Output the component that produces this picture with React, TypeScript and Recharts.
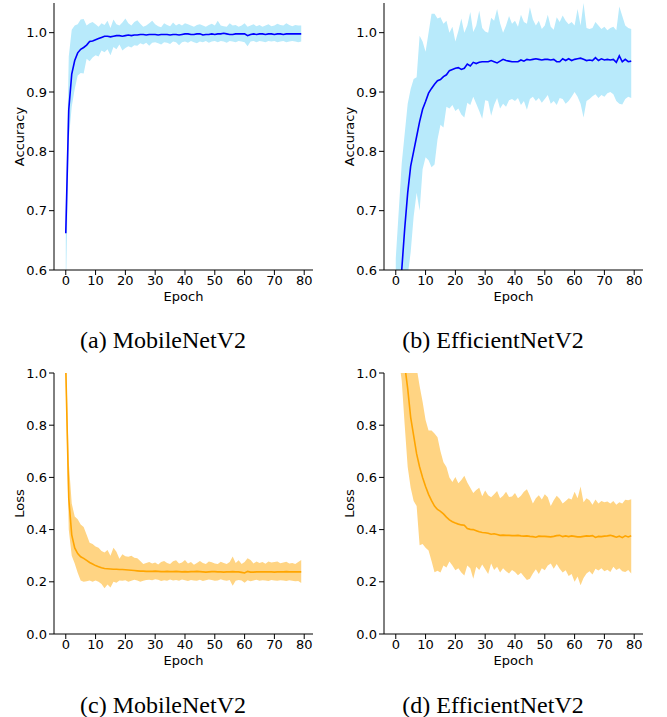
import { Area, ComposedChart, Line, XAxis, YAxis } from 'recharts';

const EPOCHS = Array.from({ length: 80 }, (_, i) => i);
const X_TICKS = [0, 10, 20, 30, 40, 50, 60, 70, 80];
const ACC_TICKS = [0.6, 0.7, 0.8, 0.9, 1.0];
const LOSS_TICKS = [0.0, 0.2, 0.4, 0.6, 0.8, 1.0];

// (a) MobileNetV2 accuracy: mean and shaded band
const accA = [
  0.662, 0.87, 0.93, 0.953, 0.966, 0.972, 0.975, 0.979, 0.985, 0.986,
  0.988, 0.99, 0.992, 0.994, 0.994, 0.993, 0.994, 0.995, 0.995, 0.994,
  0.995, 0.996, 0.995, 0.996, 0.996, 0.997, 0.997, 0.996, 0.997, 0.997,
  0.997, 0.996, 0.997, 0.997, 0.997, 0.996, 0.997, 0.997, 0.996, 0.997,
  0.998, 0.998, 0.997, 0.997, 0.998, 0.998, 0.996, 0.997, 0.997, 0.998,
  0.997, 0.998, 0.998, 0.999, 0.998, 0.997, 0.997, 0.998, 0.998, 0.998,
  0.998, 0.995, 0.997, 0.998, 0.997, 0.998, 0.998, 0.997, 0.998, 0.998,
  0.997, 0.998, 0.998, 0.997, 0.998, 0.998, 0.998, 0.998, 0.998, 0.998,
];
const accAHi = [
  0.7, 0.96, 1.005, 1.012, 1.014, 1.022, 1.023, 1.012, 1.016, 1.018,
  1.014, 1.01, 1.016, 1.013, 1.02, 1.008, 1.022, 1.014, 1.012, 1.017,
  1.024, 1.016, 1.012, 1.018, 1.021, 1.015, 1.01, 1.012, 1.016, 1.02,
  1.014, 1.011, 1.009, 1.016, 1.013, 1.011, 1.017, 1.012, 1.015, 1.012,
  1.016, 1.014, 1.012, 1.01, 1.013, 1.014, 1.012, 1.01, 1.013, 1.015,
  1.012, 1.02, 1.012, 1.011, 1.01, 1.016, 1.012, 1.013, 1.01, 1.012,
  1.016, 1.01, 1.012, 1.014, 1.011, 1.013, 1.01, 1.012, 1.014, 1.011,
  1.012, 1.015, 1.013, 1.012, 1.016, 1.013, 1.011, 1.013, 1.012, 1.012,
];
const accALo = [
  0.55, 0.82, 0.875, 0.905, 0.928, 0.932, 0.931, 0.956, 0.952, 0.958,
  0.962, 0.96, 0.97, 0.967, 0.972, 0.962, 0.976, 0.972, 0.98, 0.97,
  0.974, 0.977, 0.975, 0.979, 0.978, 0.982, 0.98, 0.983, 0.978, 0.983,
  0.984, 0.982, 0.98, 0.984, 0.983, 0.981, 0.985, 0.984, 0.979, 0.984,
  0.985, 0.983, 0.986, 0.984, 0.982, 0.985, 0.984, 0.986, 0.983, 0.985,
  0.986, 0.984, 0.986, 0.985, 0.983, 0.986, 0.985, 0.984, 0.986, 0.985,
  0.984, 0.977, 0.985, 0.986, 0.984, 0.986, 0.985, 0.984, 0.986, 0.985,
  0.986, 0.984, 0.985, 0.986, 0.984, 0.985, 0.986, 0.985, 0.984, 0.985,
];

// (b) EfficientNetV2 accuracy
const accB = [
  0.48, 0.54, 0.6, 0.67, 0.73, 0.775, 0.8, 0.825, 0.85, 0.871,
  0.884, 0.898, 0.906, 0.913, 0.919, 0.921, 0.926, 0.929, 0.936, 0.938,
  0.94, 0.941, 0.938, 0.94, 0.947, 0.944, 0.95, 0.948, 0.95, 0.951,
  0.951, 0.951, 0.953, 0.951, 0.949, 0.952, 0.955, 0.953, 0.952, 0.951,
  0.951, 0.951, 0.954, 0.952, 0.955, 0.954, 0.955, 0.956, 0.955, 0.954,
  0.955, 0.955, 0.954, 0.955, 0.951, 0.951, 0.956, 0.953, 0.956, 0.953,
  0.955, 0.956, 0.957, 0.955, 0.953, 0.954, 0.953, 0.958, 0.953, 0.956,
  0.954, 0.955, 0.954, 0.955, 0.95, 0.961, 0.951, 0.955, 0.951, 0.952,
];
const accBHi = [
  0.62, 0.7, 0.78, 0.83, 0.88, 0.905, 0.922, 0.925, 0.995, 0.985,
  0.968, 1.0, 1.032, 1.032, 1.024, 1.026, 1.015, 1.02, 1.0, 1.01,
  0.985, 1.003, 1.024, 1.0, 1.012, 1.035, 1.001, 1.012, 1.037, 1.008,
  1.002, 1.0, 1.025, 1.02, 1.04, 1.016, 1.0, 1.012, 1.028, 1.015,
  1.02, 1.01, 1.03, 1.018, 1.015, 1.043, 1.022, 1.012, 1.02, 1.006,
  1.012, 1.03, 1.01, 1.005, 1.026, 1.018, 1.029, 1.02, 1.014, 1.018,
  1.012, 1.04, 1.012, 1.05, 1.008, 1.006, 1.008, 1.018, 1.012, 1.006,
  1.01, 1.004, 1.008, 1.01, 1.004, 1.044, 1.028, 1.012, 1.008, 1.006,
];
const accBLo = [
  0.35, 0.4, 0.45, 0.52, 0.59, 0.63, 0.69, 0.73, 0.7, 0.77,
  0.79, 0.785, 0.773, 0.778, 0.82, 0.845, 0.84, 0.875, 0.872, 0.878,
  0.868, 0.872, 0.862, 0.857, 0.882, 0.878, 0.892, 0.88, 0.868, 0.855,
  0.886, 0.885, 0.86, 0.878, 0.89, 0.872, 0.88, 0.875, 0.886, 0.888,
  0.885, 0.89, 0.878, 0.885, 0.87, 0.888, 0.892, 0.885, 0.89, 0.882,
  0.888, 0.895, 0.88, 0.885, 0.878, 0.89, 0.888, 0.88, 0.885, 0.892,
  0.9, 0.892, 0.88, 0.857, 0.885, 0.888, 0.893, 0.896, 0.89, 0.895,
  0.892, 0.898, 0.9, 0.896, 0.885, 0.88, 0.879, 0.888, 0.892, 0.89,
];

// (c) MobileNetV2 loss
const lossC = [
  1.02, 0.52, 0.38, 0.33, 0.308, 0.296, 0.29, 0.282, 0.274, 0.268,
  0.262, 0.258, 0.254, 0.251, 0.25, 0.249, 0.248, 0.248, 0.247, 0.247,
  0.246, 0.245, 0.244, 0.243, 0.242, 0.241, 0.241, 0.24, 0.24, 0.24,
  0.241, 0.24, 0.239, 0.239, 0.24, 0.239, 0.239, 0.24, 0.239, 0.238,
  0.239, 0.238, 0.239, 0.239, 0.24, 0.239, 0.238, 0.237, 0.238, 0.239,
  0.239, 0.238, 0.238, 0.237, 0.238, 0.238, 0.239, 0.238, 0.238, 0.236,
  0.234, 0.24, 0.237, 0.237, 0.238, 0.238, 0.238, 0.238, 0.238, 0.238,
  0.237, 0.238, 0.238, 0.238, 0.239, 0.238, 0.238, 0.238, 0.238, 0.238,
];
const lossCHi = [
  1.1, 0.66, 0.5, 0.45, 0.44, 0.42, 0.41, 0.38, 0.35, 0.345,
  0.335, 0.33, 0.318, 0.312, 0.322, 0.3, 0.33, 0.315, 0.288, 0.306,
  0.298, 0.296, 0.3, 0.292, 0.29, 0.28, 0.268, 0.272, 0.276, 0.27,
  0.274, 0.266, 0.276, 0.28, 0.272, 0.268, 0.279, 0.283, 0.27, 0.274,
  0.284, 0.27, 0.276, 0.265, 0.272, 0.28, 0.272, 0.268, 0.278, 0.275,
  0.27, 0.268, 0.277, 0.272, 0.268, 0.276, 0.297, 0.272, 0.283, 0.268,
  0.276, 0.29, 0.284, 0.27, 0.278, 0.272, 0.276, 0.269, 0.278, 0.274,
  0.276, 0.278, 0.271, 0.274, 0.277, 0.27, 0.272, 0.268, 0.276, 0.284,
];
const lossCLo = [
  0.95, 0.4, 0.3, 0.27, 0.235, 0.205, 0.2, 0.202, 0.205, 0.2,
  0.205, 0.2, 0.192, 0.175, 0.19, 0.178, 0.2, 0.196, 0.205, 0.204,
  0.206, 0.2, 0.204, 0.208, 0.205, 0.2, 0.204, 0.207, 0.208, 0.206,
  0.21, 0.208, 0.203, 0.206, 0.204, 0.209, 0.205, 0.207, 0.204, 0.209,
  0.206, 0.203, 0.207, 0.205, 0.204, 0.208, 0.203, 0.206, 0.209, 0.207,
  0.204, 0.205, 0.21, 0.206, 0.204, 0.207, 0.185, 0.204, 0.207, 0.205,
  0.196, 0.206, 0.202, 0.205, 0.208, 0.204, 0.206, 0.205, 0.203, 0.207,
  0.205, 0.204, 0.206, 0.205, 0.203, 0.206, 0.204, 0.202, 0.203, 0.195,
];

// (d) EfficientNetV2 loss
const lossD = [
  1.28, 1.18, 1.1, 1.03, 0.94, 0.83, 0.76, 0.69, 0.64, 0.6,
  0.565, 0.535, 0.511, 0.49, 0.477, 0.47, 0.46, 0.448, 0.437, 0.43,
  0.425, 0.421, 0.418, 0.417, 0.404, 0.401, 0.4, 0.396, 0.392, 0.389,
  0.388, 0.386, 0.382, 0.384, 0.381, 0.378, 0.379, 0.378, 0.378, 0.377,
  0.377, 0.378, 0.376, 0.375, 0.376, 0.374, 0.373, 0.371, 0.375, 0.374,
  0.374, 0.373, 0.372, 0.374, 0.377, 0.378, 0.373, 0.376, 0.373, 0.376,
  0.374, 0.372, 0.372, 0.374, 0.376, 0.375, 0.377, 0.37, 0.374, 0.373,
  0.375, 0.376, 0.378, 0.375, 0.371, 0.375, 0.369, 0.376, 0.372, 0.376,
];
const lossDHi = [
  1.5, 1.45, 1.38, 1.3, 1.22, 1.15, 1.08, 1.02, 0.95, 0.89,
  0.82, 0.78, 0.78, 0.768, 0.754, 0.7, 0.658, 0.64, 0.6, 0.582,
  0.602, 0.578, 0.59, 0.606, 0.58, 0.56, 0.54, 0.552, 0.56, 0.528,
  0.55, 0.532, 0.524, 0.535, 0.548, 0.52, 0.53, 0.545, 0.525, 0.527,
  0.54, 0.52, 0.53, 0.545, 0.555, 0.53, 0.5, 0.52, 0.532, 0.515,
  0.535, 0.524, 0.49, 0.512, 0.53, 0.518, 0.5, 0.51, 0.52, 0.515,
  0.545, 0.52, 0.565, 0.505, 0.52, 0.512, 0.495, 0.515, 0.5, 0.51,
  0.505, 0.508, 0.5, 0.51, 0.495, 0.505, 0.5, 0.514, 0.512, 0.516,
];
const lossDLo = [
  1.15, 1.06, 0.97, 0.8, 0.64, 0.56, 0.51, 0.49, 0.34, 0.345,
  0.33, 0.32, 0.28, 0.237, 0.242, 0.236, 0.262, 0.255, 0.278, 0.262,
  0.244, 0.252, 0.236, 0.224, 0.262, 0.252, 0.212, 0.258, 0.245, 0.266,
  0.248, 0.23, 0.27, 0.245, 0.258, 0.236, 0.252, 0.24, 0.232, 0.245,
  0.238, 0.225, 0.235, 0.22, 0.207, 0.212, 0.232, 0.248, 0.23, 0.252,
  0.244, 0.262, 0.27, 0.25, 0.268, 0.25, 0.236, 0.244, 0.222, 0.23,
  0.2, 0.22, 0.187, 0.215, 0.232, 0.24, 0.228, 0.25, 0.243, 0.252,
  0.24, 0.246, 0.238, 0.258, 0.245, 0.252, 0.24, 0.238, 0.245, 0.232,
];

const FONT_SIZE = 13;
const TICK_FONT = { fontSize: FONT_SIZE, fill: '#000', fontFamily: 'DejaVu Sans' };
const CAPTION_FONT = 'Liberation Serif';
const X_DOMAIN: [number, number] = [-3.95, 82.95];

interface PanelProps {
  left: number;
  top: number;
  marginTop: number;
  height: number;
  mean: number[];
  lo: number[];
  hi: number[];
  yDomain: [number, number];
  yTicks: number[];
  yLabel: string;
  lineColor: string;
  fillColor: string;
}

function Panel(p: PanelProps) {
  const rows = EPOCHS.map((epoch, i) => ({
    epoch,
    mean: p.mean[i],
    band: [p.lo[i], p.hi[i]],
  }));

  const yTitle = (props: any) => {
    const vb = props.viewBox;
    const x = vb.x + 11;
    const y = vb.y + vb.height / 2;
    return (
      <text
        x={x}
        y={y}
        transform={`rotate(-90, ${x}, ${y})`}
        textAnchor="middle"
        dominantBaseline="central"
        fontSize={FONT_SIZE}
        fontFamily="DejaVu Sans"
        fill="#000"
      >
        {p.yLabel}
      </text>
    );
  };

  return (
    <div style={{ position: 'absolute', left: p.left, top: p.top }}>
      <ComposedChart
        width={330}
        height={p.height}
        data={rows}
        margin={{ top: p.marginTop, right: 17, bottom: 0, left: 8 }}
      >
        <XAxis
          dataKey="epoch"
          type="number"
          domain={X_DOMAIN}
          ticks={X_TICKS}
          allowDataOverflow
          height={40}
          tickSize={5}
          tickMargin={1}
          tick={TICK_FONT}
          axisLine={{ stroke: '#000' }}
          tickLine={{ stroke: '#000' }}
          label={{
            value: 'Epoch',
            position: 'insideBottom',
            offset: 9,
            fontSize: FONT_SIZE,
            fontFamily: 'DejaVu Sans',
            fill: '#000',
          }}
        />
        <XAxis
          xAxisId="top"
          orientation="top"
          dataKey="epoch"
          type="number"
          domain={X_DOMAIN}
          allowDataOverflow
          height={0}
          tick={false}
          tickLine={false}
          axisLine={{ stroke: '#666' }}
        />
        <YAxis
          type="number"
          domain={p.yDomain}
          ticks={p.yTicks}
          allowDataOverflow
          width={46}
          tickSize={5}
          tickMargin={2}
          tick={TICK_FONT}
          tickFormatter={(v: number) => v.toFixed(1)}
          axisLine={{ stroke: '#000' }}
          tickLine={{ stroke: '#000' }}
          label={{ content: yTitle }}
        />
        <YAxis
          yAxisId="right"
          orientation="right"
          type="number"
          domain={p.yDomain}
          allowDataOverflow
          width={0}
          tick={false}
          tickLine={false}
          axisLine={{ stroke: '#666' }}
        />
        <Area
          dataKey="band"
          type="linear"
          stroke="none"
          fill={p.fillColor}
          fillOpacity={1}
          isAnimationActive={false}
          dot={false}
          activeDot={false}
        />
        <Line
          dataKey="mean"
          type="linear"
          stroke={p.lineColor}
          strokeWidth={1.6}
          dot={false}
          activeDot={false}
          isAnimationActive={false}
        />
      </ComposedChart>
    </div>
  );
}

function Caption({ cx, top, text }: { cx: number; top: number; text: string }) {
  return (
    <div
      style={{
        position: 'absolute',
        left: cx - 150,
        top,
        width: 300,
        textAlign: 'center',
        fontFamily: CAPTION_FONT,
        fontSize: 24,
        lineHeight: '24px',
        color: '#000',
      }}
    >
      {text}
    </div>
  );
}

export default function App() {
  return (
    <div
      style={{
        position: 'absolute',
        left: 0,
        top: 0,
        width: 667,
        height: 717,
        background: '#fff',
        overflow: 'hidden',
      }}
    >
      <Panel
        left={0}
        top={0}
        marginTop={3}
        height={310}
        mean={accA}
        lo={accALo}
        hi={accAHi}
        yDomain={[0.6, 1.05]}
        yTicks={ACC_TICKS}
        yLabel="Accuracy"
        lineColor="#0000ff"
        fillColor="#b8eafb"
      />
      <Panel
        left={330}
        top={0}
        marginTop={3}
        height={310}
        mean={accB}
        lo={accBLo}
        hi={accBHi}
        yDomain={[0.6, 1.05]}
        yTicks={ACC_TICKS}
        yLabel="Accuracy"
        lineColor="#0000ff"
        fillColor="#b8eafb"
      />
      <Panel
        left={0}
        top={360}
        marginTop={13}
        height={314}
        mean={lossC}
        lo={lossCLo}
        hi={lossCHi}
        yDomain={[0, 1]}
        yTicks={LOSS_TICKS}
        yLabel="Loss"
        lineColor="#ffa500"
        fillColor="#ffd483"
      />
      <Panel
        left={330}
        top={360}
        marginTop={13}
        height={314}
        mean={lossD}
        lo={lossDLo}
        hi={lossDHi}
        yDomain={[0, 1]}
        yTicks={LOSS_TICKS}
        yLabel="Loss"
        lineColor="#ffa500"
        fillColor="#ffd483"
      />
      <Caption cx={163} top={328} text="(a) MobileNetV2" />
      <Caption cx={493} top={328} text="(b) EfficientNetV2" />
      <Caption cx={163} top={693} text="(c) MobileNetV2" />
      <Caption cx={493} top={693} text="(d) EfficientNetV2" />
    </div>
  );
}
